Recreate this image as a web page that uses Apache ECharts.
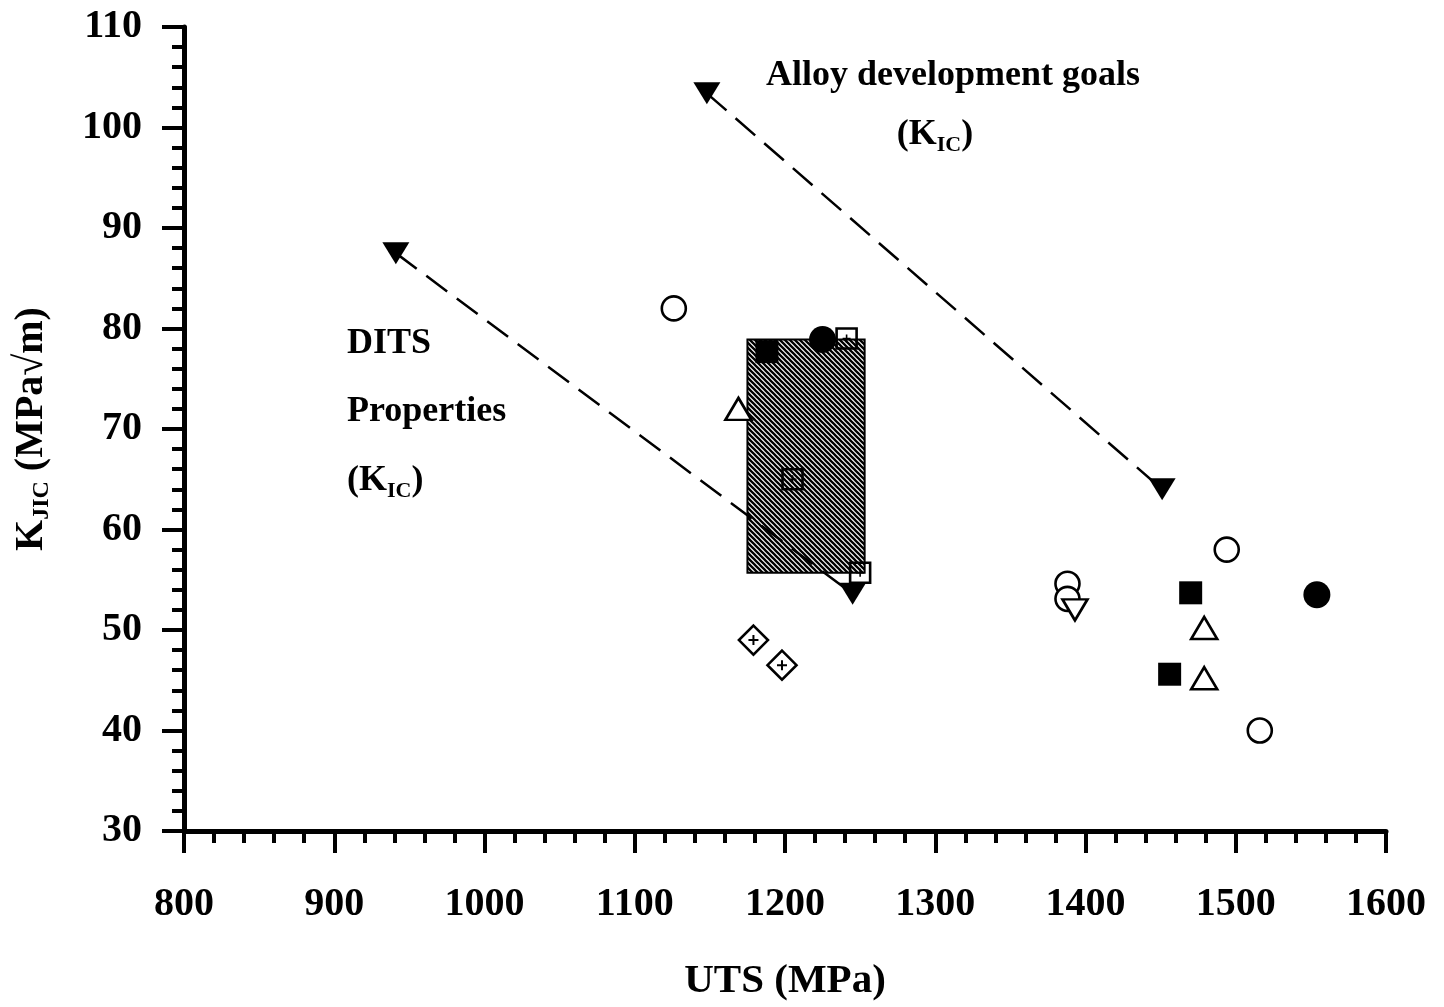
<!DOCTYPE html>
<html>
<head>
<meta charset="utf-8">
<script src="https://cdn.jsdelivr.net/npm/echarts@6/dist/echarts.min.js"></script>
<style>
  html, body { margin: 0; padding: 0; background: #fff; }
  #chart { width: 1444px; height: 1007px; }
</style>
</head>
<body>
<div id="chart"></div>
<script>
// UTS (MPa) vs K_JIC (MPa·√m) for the alloys tested
const openCircles       = [[1126, 82], [1388, 54.6], [1388, 53.1], [1494, 58], [1516, 40]];
const filledCircles     = [[1225, 78.9], [1554, 53.5]];
const filledSquares     = [[1188, 77.7], [1470, 53.7], [1456, 45.6]];
const openTrianglesUp   = [[1169, 72], [1479, 50.2], [1479, 45.2]];
const openTrianglesDown = [[1393, 52]];
const dottedSquares     = [[1241, 79], [1205, 65], [1250, 55.7]];
const crossedDiamonds   = [[1179, 49], [1198, 46.5]];

// DITS property band: [UTS min, K min, UTS max, K max]
const ditsBand = [[1175, 55.7, 1253, 78.9]];

// Trend arrows (K_IC)
const ditsTrend = [[941, 87.5], [1245, 53.6]];
const goalTrend = [[1148, 103.4], [1451, 64]];

// Axis scales
const xMin = 800, xMax = 1600, xStep = 100;
const yMin = 30, yMax = 110, yStep = 10;

const FONT = "'Liberation Serif', 'Times New Roman', serif";
const INK = '#000';

// diagonal hatch for the DITS band
function hatch() {
  const s = 5;
  const c = document.createElement('canvas');
  c.width = s; c.height = s;
  const g = c.getContext('2d');
  g.fillStyle = '#fff';
  g.fillRect(0, 0, s, s);
  g.strokeStyle = '#000';
  g.lineWidth = 2.3;
  g.beginPath();
  g.moveTo(-2, -2); g.lineTo(s + 2, s + 2);
  g.moveTo(-2, s - 2); g.lineTo(2, s + 2);
  g.moveTo(s - 2, -2); g.lineTo(s + 2, 2);
  g.stroke();
  return c;
}

const plusPath = 'path://M3.2,0H4.8V3.2H8V4.8H4.8V8H3.2V4.8H0V3.2H3.2Z';
const openStyle = { color: '#fff', borderColor: INK, borderWidth: 2.6, opacity: 1 };
const hollowStyle = { color: 'rgba(0,0,0,0)', borderColor: INK, borderWidth: 2.6, opacity: 1 };
const solidStyle = { color: INK, opacity: 1 };

const chart = echarts.init(document.getElementById('chart'), null, { renderer: 'canvas' });

const subRich = {
  b: { fontFamily: FONT, fontWeight: 'bold', fontSize: 40, color: INK, lineHeight: 46, verticalAlign: 'bottom' },
  s: { fontFamily: FONT, fontWeight: 'bold', fontSize: 24, color: INK, lineHeight: 24, verticalAlign: 'bottom', padding: [0, 0, -2, 0] }
};
const annRich = {
  b: { fontFamily: FONT, fontWeight: 'bold', fontSize: 36, color: INK, lineHeight: 42, verticalAlign: 'bottom' },
  s: { fontFamily: FONT, fontWeight: 'bold', fontSize: 22, color: INK, lineHeight: 22, verticalAlign: 'bottom', padding: [0, 0, -3, 0] }
};

function annText(x, y, text, align) {
  return {
    type: 'text', x: x, y: y, z: 50,
    style: { text: text, rich: annRich, align: align || 'left', verticalAlign: 'middle',
             fontFamily: FONT, fontWeight: 'bold', fontSize: 36, fill: INK }
  };
}

const plain = function (v) { return String(v); };

const option = {
  backgroundColor: '#fff',
  animation: false,
  grid: { left: 184, right: 58, top: 27, bottom: 169, containLabel: false },
  xAxis: {
    type: 'value', min: xMin, max: xMax, interval: xStep,
    name: 'UTS (MPa)', nameLocation: 'middle', nameGap: 130,
    nameTextStyle: { fontFamily: FONT, fontWeight: 'bold', fontSize: 41, color: INK },
    axisLine: { lineStyle: { color: INK, width: 5 } },
    axisTick: { inside: false, length: 22, lineStyle: { color: INK, width: 4 } },
    minorTick: { show: true, splitNumber: 5, length: 12, lineStyle: { color: INK, width: 4 } },
    axisLabel: { margin: 54, fontFamily: FONT, fontWeight: 'bold', fontSize: 40, color: INK, formatter: plain },
    splitLine: { show: false }
  },
  yAxis: {
    type: 'value', min: yMin, max: yMax, interval: yStep,
    name: '{b|K}{s|JIC}{b| (MPa√m)}', nameLocation: 'middle', nameGap: 132, nameRotate: 90,
    nameTextStyle: { rich: subRich, fontFamily: FONT, fontWeight: 'bold', fontSize: 40, color: INK },
    axisLine: { lineStyle: { color: INK, width: 5 } },
    axisTick: { inside: false, length: 22, lineStyle: { color: INK, width: 4 } },
    minorTick: { show: true, splitNumber: 5, length: 12, lineStyle: { color: INK, width: 4 } },
    axisLabel: { margin: 42, fontFamily: FONT, fontWeight: 'bold', fontSize: 40, color: INK, formatter: plain },
    splitLine: { show: false }
  },
  graphic: [
    annText(953, 76, 'Alloy development goals', 'center'),
    annText(935, 132, '{b|(K}{s|IC}{b|)}', 'center'),
    annText(347, 344, 'DITS'),
    annText(347, 412, 'Properties'),
    annText(347, 478, '{b|(K}{s|IC}{b|)}')
  ],
  series: [
    {
      type: 'custom', name: 'DITS band', z: 1,
      data: ditsBand,
      encode: { x: [0, 2], y: [1, 3] },
      renderItem: function (params, api) {
        const p1 = api.coord([api.value(0), api.value(3)]);
        const p2 = api.coord([api.value(2), api.value(1)]);
        return {
          type: 'rect',
          shape: { x: p1[0], y: p1[1], width: p2[0] - p1[0], height: p2[1] - p1[1] },
          style: { fill: { image: hatch(), repeat: 'repeat' }, stroke: INK, lineWidth: 2 }
        };
      }
    },
    {
      type: 'line', name: 'DITS trend', z: 3, data: ditsTrend,
      symbol: 'triangle', symbolRotate: 180, symbolSize: [27, 22],
      itemStyle: solidStyle,
      lineStyle: { color: INK, width: 2.5, type: [26, 12] }
    },
    {
      type: 'line', name: 'Goal trend', z: 3, data: goalTrend,
      symbol: 'triangle', symbolRotate: 180, symbolSize: [27, 22],
      itemStyle: solidStyle,
      lineStyle: { color: INK, width: 2.5, type: [26, 12] }
    },
    { type: 'scatter', z: 4, data: openCircles, symbol: 'circle', symbolSize: 24, itemStyle: openStyle },
    { type: 'scatter', z: 4, data: filledCircles, symbol: 'circle', symbolSize: 27, itemStyle: solidStyle },
    { type: 'scatter', z: 4, data: filledSquares, symbol: 'rect', symbolSize: 23, itemStyle: solidStyle },
    { type: 'scatter', z: 4, data: openTrianglesUp, symbol: 'triangle', symbolSize: [26, 22], itemStyle: openStyle },
    { type: 'scatter', z: 4, data: openTrianglesDown, symbol: 'triangle', symbolRotate: 180, symbolSize: [25, 21], itemStyle: openStyle },
    { type: 'scatter', z: 4, data: dottedSquares, symbol: 'rect', symbolSize: 20, itemStyle: hollowStyle },
    { type: 'scatter', z: 5, data: dottedSquares, symbol: plusPath, symbolSize: 8, itemStyle: solidStyle },
    { type: 'scatter', z: 4, data: crossedDiamonds, symbol: 'diamond', symbolSize: 29, itemStyle: openStyle },
    { type: 'scatter', z: 5, data: crossedDiamonds, symbol: plusPath, symbolSize: 10, itemStyle: solidStyle }
  ]
};

chart.setOption(option);
</script>
</body>
</html>
